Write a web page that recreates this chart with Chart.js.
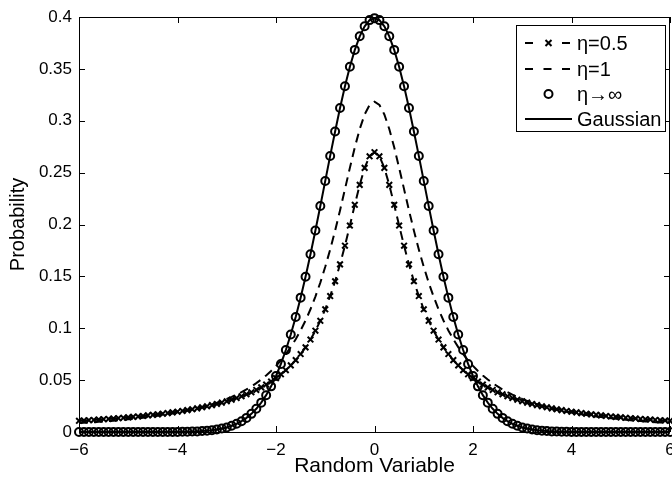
<!DOCTYPE html>
<html>
<head>
<meta charset="utf-8">
<script src="https://cdn.jsdelivr.net/npm/chart.js@4/dist/chart.umd.min.js"></script>
<style>
  html, body { margin: 0; padding: 0; background: #fff; }
  canvas { display: block; }
</style>
</head>
<body>
<canvas id="chart" width="672" height="481"></canvas>
<script>
// valores da variável aleatória (eixo x)
const xs = [
  -6.0, -5.9, -5.8, -5.7, -5.6, -5.5, -5.4, -5.3, -5.2, -5.1,
  -5.0, -4.9, -4.8, -4.7, -4.6, -4.5, -4.4, -4.3, -4.2, -4.1,
  -4.0, -3.9, -3.8, -3.7, -3.6, -3.5, -3.4, -3.3, -3.2, -3.1,
  -3.0, -2.9, -2.8, -2.7, -2.6, -2.5, -2.4, -2.3, -2.2, -2.1,
  -2.0, -1.9, -1.8, -1.7, -1.6, -1.5, -1.4, -1.3, -1.2, -1.1,
  -1.0, -0.9, -0.8, -0.7, -0.6, -0.5, -0.4, -0.3, -0.2, -0.1,
  0.0, 0.1, 0.2, 0.3, 0.4, 0.5, 0.6, 0.7, 0.8, 0.9,
  1.0, 1.1, 1.2, 1.3, 1.4, 1.5, 1.6, 1.7, 1.8, 1.9,
  2.0, 2.1, 2.2, 2.3, 2.4, 2.5, 2.6, 2.7, 2.8, 2.9,
  3.0, 3.1, 3.2, 3.3, 3.4, 3.5, 3.6, 3.7, 3.8, 3.9,
  4.0, 4.1, 4.2, 4.3, 4.4, 4.5, 4.6, 4.7, 4.8, 4.9,
  5.0, 5.1, 5.2, 5.3, 5.4, 5.5, 5.6, 5.7, 5.8, 5.9,
  6.0
];

// η=0.5
const eta05 = [
  0.0108, 0.0111, 0.0114, 0.0116, 0.0120, 0.0123, 0.0126, 0.0130, 0.0133, 0.0137,
  0.0141, 0.0146, 0.0150, 0.0155, 0.0160, 0.0165, 0.0170, 0.0176, 0.0182, 0.0189,
  0.0196, 0.0203, 0.0211, 0.0219, 0.0228, 0.0238, 0.0248, 0.0259, 0.0270, 0.0283,
  0.0296, 0.0311, 0.0327, 0.0344, 0.0363, 0.0383, 0.0405, 0.0430, 0.0457, 0.0486,
  0.0519, 0.0556, 0.0596, 0.0642, 0.0693, 0.0751, 0.0816, 0.0891, 0.0976, 0.1072,
  0.1183, 0.1310, 0.1453, 0.1616, 0.1796, 0.1990, 0.2190, 0.2382, 0.2546, 0.2657,
  0.2697, 0.2657, 0.2546, 0.2382, 0.2190, 0.1990, 0.1796, 0.1616, 0.1453, 0.1310,
  0.1183, 0.1072, 0.0976, 0.0891, 0.0816, 0.0751, 0.0693, 0.0642, 0.0596, 0.0556,
  0.0519, 0.0486, 0.0457, 0.0430, 0.0405, 0.0383, 0.0363, 0.0344, 0.0327, 0.0311,
  0.0296, 0.0283, 0.0270, 0.0259, 0.0248, 0.0238, 0.0228, 0.0219, 0.0211, 0.0203,
  0.0196, 0.0189, 0.0182, 0.0176, 0.0170, 0.0165, 0.0160, 0.0155, 0.0150, 0.0146,
  0.0141, 0.0137, 0.0133, 0.0130, 0.0126, 0.0123, 0.0120, 0.0116, 0.0114, 0.0111,
  0.0108
];

// η=1
const eta1 = [
  0.0086, 0.0089, 0.0092, 0.0095, 0.0098, 0.0102, 0.0106, 0.0109, 0.0114, 0.0118,
  0.0122, 0.0127, 0.0132, 0.0138, 0.0144, 0.0150, 0.0156, 0.0163, 0.0171, 0.0179,
  0.0187, 0.0196, 0.0206, 0.0217, 0.0228, 0.0240, 0.0253, 0.0268, 0.0283, 0.0300,
  0.0318, 0.0338, 0.0360, 0.0384, 0.0410, 0.0439, 0.0471, 0.0506, 0.0545, 0.0588,
  0.0637, 0.0690, 0.0751, 0.0818, 0.0894, 0.0979, 0.1075, 0.1183, 0.1305, 0.1440,
  0.1592, 0.1759, 0.1941, 0.2136, 0.2341, 0.2546, 0.2744, 0.2920, 0.3061, 0.3152,
  0.3183, 0.3152, 0.3061, 0.2920, 0.2744, 0.2546, 0.2341, 0.2136, 0.1941, 0.1759,
  0.1592, 0.1440, 0.1305, 0.1183, 0.1075, 0.0979, 0.0894, 0.0818, 0.0751, 0.0690,
  0.0637, 0.0588, 0.0545, 0.0506, 0.0471, 0.0439, 0.0410, 0.0384, 0.0360, 0.0338,
  0.0318, 0.0300, 0.0283, 0.0268, 0.0253, 0.0240, 0.0228, 0.0217, 0.0206, 0.0196,
  0.0187, 0.0179, 0.0171, 0.0163, 0.0156, 0.0150, 0.0144, 0.0138, 0.0132, 0.0127,
  0.0122, 0.0118, 0.0114, 0.0109, 0.0106, 0.0102, 0.0098, 0.0095, 0.0092, 0.0089,
  0.0086
];

// η→∞ (marcadores) e Gaussiana (linha) coincidem
const gaussian = [
  0, 0, 0, 0, 0, 0, 0, 0, 0, 0,
  0, 0, 0, 0, 0, 0, 0, 0, 0.0001, 0.0001,
  0.0001, 0.0002, 0.0003, 0.0004, 0.0006, 0.0009, 0.0012, 0.0017, 0.0024, 0.0033,
  0.0044, 0.0060, 0.0079, 0.0104, 0.0136, 0.0175, 0.0224, 0.0283, 0.0355, 0.0440,
  0.0540, 0.0656, 0.0790, 0.0940, 0.1109, 0.1295, 0.1497, 0.1714, 0.1942, 0.2179,
  0.2420, 0.2661, 0.2897, 0.3123, 0.3332, 0.3521, 0.3683, 0.3814, 0.3910, 0.3970,
  0.3989, 0.3970, 0.3910, 0.3814, 0.3683, 0.3521, 0.3332, 0.3123, 0.2897, 0.2661,
  0.2420, 0.2179, 0.1942, 0.1714, 0.1497, 0.1295, 0.1109, 0.0940, 0.0790, 0.0656,
  0.0540, 0.0440, 0.0355, 0.0283, 0.0224, 0.0175, 0.0136, 0.0104, 0.0079, 0.0060,
  0.0044, 0.0033, 0.0024, 0.0017, 0.0012, 0.0009, 0.0006, 0.0004, 0.0003, 0.0002,
  0.0001, 0.0001, 0.0001, 0, 0, 0, 0, 0, 0, 0,
  0, 0, 0, 0, 0, 0, 0, 0, 0, 0,
  0
];

const legendLabels = ['η=0.5', 'η=1', 'η→∞', 'Gaussian'];
const xLabel = 'Random Variable';
const yLabel = 'Probability';

const FONT = "'Liberation Sans', Arial, Helvetica, sans-serif";
const pairs = (ys) => xs.map((x, i) => ({ x: x, y: ys[i] }));
const fmtTick = (v) => {
  const s = String(+Number(v).toFixed(2));
  return v < 0 ? '\u2212' + s.slice(1) : s;
};

// caixa dos eixos, marcas de escala para dentro e legenda
const matlabAxes = {
  id: 'matlabAxes',
  afterDatasetsDraw(chart) {
    const { ctx, chartArea: a, scales } = chart;
    ctx.save();
    ctx.strokeStyle = '#000';
    ctx.lineWidth = 1;
    ctx.setLineDash([]);
    ctx.strokeRect(a.left + 0.5, a.top + 0.5, a.right - a.left - 1, a.bottom - a.top);
    const tl = 6;
    ctx.beginPath();
    scales.x.ticks.forEach(t => {
      const px = Math.round(scales.x.getPixelForValue(t.value)) + 0.5;
      ctx.moveTo(px, a.bottom); ctx.lineTo(px, a.bottom - tl);
      ctx.moveTo(px, a.top); ctx.lineTo(px, a.top + tl);
    });
    scales.y.ticks.forEach(t => {
      const py = Math.round(scales.y.getPixelForValue(t.value)) + 0.5;
      ctx.moveTo(a.left, py); ctx.lineTo(a.left + tl, py);
      ctx.moveTo(a.right, py); ctx.lineTo(a.right - tl, py);
    });
    ctx.stroke();

    // legenda
    const bx = 516, by = 25, bw = 149, bh = 106;
    ctx.fillStyle = '#fff';
    ctx.fillRect(bx, by, bw, bh);
    ctx.strokeRect(bx + 0.5, by + 0.5, bw, bh);
    const rows = [43, 69, 94, 119];
    const x0 = 525, x1 = 572, xm = 548.5;
    ctx.lineWidth = 2;
    // η=0.5
    ctx.setLineDash([8, 10.5]);
    ctx.beginPath(); ctx.moveTo(x0, rows[0]); ctx.lineTo(x1, rows[0]); ctx.stroke();
    ctx.setLineDash([]);
    ctx.fillRect(xm - 6, rows[0] - 3, 12, 6);
    ctx.beginPath();
    ctx.moveTo(xm - 3, rows[0] - 3); ctx.lineTo(xm + 3, rows[0] + 3);
    ctx.moveTo(xm + 3, rows[0] - 3); ctx.lineTo(xm - 3, rows[0] + 3);
    ctx.stroke();
    // η=1
    ctx.setLineDash([8, 10.5]);
    ctx.beginPath(); ctx.moveTo(x0, rows[1]); ctx.lineTo(x1, rows[1]); ctx.stroke();
    ctx.setLineDash([]);
    // η→∞
    ctx.beginPath(); ctx.arc(xm, rows[2], 4, 0, Math.PI * 2); ctx.stroke();
    // Gaussian
    ctx.beginPath(); ctx.moveTo(x0, rows[3]); ctx.lineTo(x1, rows[3]); ctx.stroke();

    ctx.fillStyle = '#000';
    ctx.font = '20px ' + FONT;
    ctx.textBaseline = 'middle';
    ctx.textAlign = 'left';
    legendLabels.forEach((t, i) => ctx.fillText(t, 577, rows[i] + 1));
    ctx.restore();
  }
};

const ctx = document.getElementById('chart').getContext('2d');
new Chart(ctx, {
  type: 'line',
  data: {
    datasets: [
      { label: legendLabels[3], data: pairs(gaussian), borderColor: '#000', borderWidth: 2,
        pointRadius: 0, tension: 0, clip: false },
      { label: legendLabels[2], data: pairs(gaussian), showLine: false, pointStyle: 'circle',
        pointRadius: 4, pointBorderWidth: 2, pointBorderColor: '#000',
        pointBackgroundColor: 'rgba(0,0,0,0)', clip: false },
      { label: legendLabels[1], data: pairs(eta1), borderColor: '#000', borderWidth: 2,
        borderDash: [9, 6], pointRadius: 0, tension: 0, clip: false },
      { label: legendLabels[0], data: pairs(eta05), borderColor: '#000', borderWidth: 2,
        borderDash: [9, 6], pointStyle: 'crossRot', pointRadius: 4, pointBorderWidth: 2,
        pointBorderColor: '#000', tension: 0, clip: false }
    ]
  },
  options: {
    responsive: false,
    animation: false,
    devicePixelRatio: 1,
    layout: { autoPadding: false, padding: { top: 17, right: 2, left: 0, bottom: 0 } },
    plugins: { legend: { display: false }, tooltip: { enabled: false } },
    scales: {
      x: {
        type: 'linear', min: -6, max: 6,
        grid: { display: false, drawTicks: false },
        border: { display: false },
        ticks: { stepSize: 2, color: '#000', padding: 8, font: { family: FONT, size: 17 },
          callback: (v) => fmtTick(v), maxRotation: 0 },
        title: { display: true, text: xLabel, color: '#000', font: { family: FONT, size: 21 },
          padding: { top: 0, bottom: 2 } },
        afterFit: (s) => { s.height = 49; s.paddingLeft = 0; s.paddingRight = 0; }
      },
      y: {
        min: 0, max: 0.4,
        grid: { display: false, drawTicks: false },
        border: { display: false },
        ticks: { stepSize: 0.05, color: '#000', padding: 7, font: { family: FONT, size: 17 },
          callback: (v) => fmtTick(v), autoSkip: false },
        title: { display: true, text: yLabel, color: '#000', font: { family: FONT, size: 20 },
          padding: { top: 6, bottom: 0 } },
        afterFit: (s) => { s.width = 79; s.paddingTop = 0; s.paddingBottom = 0; }
      }
    }
  },
  plugins: [matlabAxes]
});
</script>
</body>
</html>
